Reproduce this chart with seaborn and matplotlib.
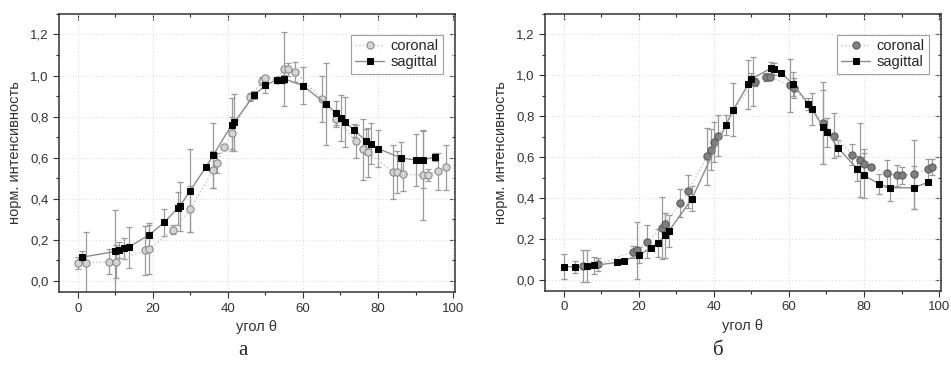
import numpy as np
import pandas as pd
import matplotlib
matplotlib.use("Agg")
import matplotlib.pyplot as plt
import seaborn as sns
from matplotlib.ticker import MultipleLocator, FuncFormatter, NullFormatter

# panel а
a_cor_x = [0, 2.2, 8.4, 10.2, 17.9, 19, 25.5, 30, 36.1, 37.1, 39, 41, 46, 49, 50, 53, 54.9, 56, 58,
           65, 68.8, 74.2, 76, 77.3, 84, 85, 86.7, 92, 93.2, 96.1, 98.2]
a_cor_y = [0.086, 0.086, 0.094, 0.094, 0.148, 0.154, 0.25, 0.35, 0.54, 0.574, 0.65, 0.72, 0.896, 0.972,
           0.99, 0.98, 1.034, 1.03, 1.018, 0.886, 0.79, 0.68, 0.64, 0.626, 0.53, 0.53, 0.52, 0.514,
           0.517, 0.533, 0.553]
a_cor_e = [0.03, 0.15, 0.06, 0.08, 0.12, 0.12, 0.02, 0.11, 0.09, 0.05, 0.0, 0.08, 0.02, 0.02, 0.01, 0.0,
           0.18, 0.03, 0.05, 0.11, 0.04, 0.08, 0.15, 0.12, 0.13, 0.1, 0.08, 0.22, 0.03, 0.09, 0.11]

a_sag_x = [1.1, 10, 11.1, 12.3, 13.6, 19, 23.1, 26.6, 27.2, 30, 34.1, 36.1, 41, 41.7, 47, 50, 53.1,
           54.1, 55, 60, 66.1, 68.7, 70.1, 71.2, 73.7, 76.9, 78.1, 80, 86.2, 90, 92.1, 95.1]
a_sag_y = [0.115, 0.143, 0.151, 0.158, 0.164, 0.224, 0.285, 0.354, 0.363, 0.44, 0.553, 0.611, 0.76,
           0.772, 0.904, 0.953, 0.98, 0.98, 0.984, 0.951, 0.862, 0.818, 0.793, 0.774, 0.733, 0.68,
           0.668, 0.644, 0.598, 0.589, 0.59, 0.603]
a_sag_e = [0.03, 0.2, 0.04, 0.05, 0.1, 0.06, 0.065, 0.08, 0.12, 0.2, 0.0, 0.16, 0.13, 0.14, 0.02, 0.04,
           0.0, 0.0, 0.02, 0.09, 0.2, 0.06, 0.11, 0.12, 0.03, 0.06, 0.1, 0.09, 0.08, 0.125, 0.14, 0.02]

# panel б
b_cor_x = [5.1, 9.2, 18.4, 19.4, 22.2, 26.1, 27, 31.1, 33.2, 38.2, 39.2, 40.1, 41.2, 50.5, 51, 54, 55,
           60.2, 61.3, 69.2, 72, 76.9, 79, 80, 82, 86.1, 88.9, 90.2, 93.2, 97.1, 98]
b_cor_y = [0.067, 0.075, 0.137, 0.145, 0.186, 0.254, 0.275, 0.376, 0.433, 0.604, 0.637, 0.674, 0.705,
           0.971, 0.966, 0.992, 0.992, 0.951, 0.938, 0.767, 0.705, 0.612, 0.585, 0.568, 0.55, 0.52,
           0.51, 0.51, 0.516, 0.54, 0.55]
b_cor_e = [0.08, 0.03, 0.03, 0.14, 0.08, 0.15, 0.05, 0.07, 0.08, 0.14, 0.1, 0.1, 0.1, 0.12, 0.02, 0.02,
           0.01, 0.13, 0.05, 0.2, 0.11, 0.05, 0.18, 0.07, 0.0, 0.065, 0.05, 0.04, 0.17, 0.05, 0.04]

b_sag_x = [0, 3, 6.1, 8.2, 14.1, 16.1, 20, 23.2, 25.1, 27.1, 28, 34.2, 43.2, 45.2, 49.2, 50, 55.2, 56.1,
           58, 61.1, 65.2, 66.2, 69.1, 70.2, 73.1, 78.1, 80, 84, 87, 93.2, 97.1]
b_sag_y = [0.064, 0.064, 0.067, 0.07, 0.085, 0.094, 0.12, 0.156, 0.18, 0.217, 0.238, 0.397, 0.756,
           0.832, 0.957, 0.982, 1.034, 1.031, 1.011, 0.957, 0.86, 0.835, 0.746, 0.721, 0.645, 0.544,
           0.511, 0.469, 0.45, 0.45, 0.477]
b_sag_e = [0.06, 0.03, 0.08, 0.04, 0.0, 0.0, 0.04, 0.0, 0.07, 0.11, 0.08, 0.06, 0.05, 0.13, 0.12, 0.03,
           0.03, 0.03, 0.0, 0.06, 0.03, 0.08, 0.18, 0.07, 0.04, 0.06, 0.11, 0.05, 0.065, 0.105, 0.0]

panel_labels = ["а", "б"]
cor_face = ["#d4d4d4", "#808080"]
cor_edge = ["#8a8a8a", "#5a5a5a"]

sns.set_style("white")
plt.rcParams['font.family'] = ['Liberation Sans', 'DejaVu Sans']

fig = plt.figure(figsize=(9.51, 3.67), dpi=100)
ax1 = fig.add_axes([0.062, 0.204, 0.416, 0.758])
ax2 = fig.add_axes([0.573, 0.207, 0.416, 0.755])

panels = [
    (ax1, a_cor_x, a_cor_y, a_cor_e, a_sag_x, a_sag_y, a_sag_e),
    (ax2, b_cor_x, b_cor_y, b_cor_e, b_sag_x, b_sag_y, b_sag_e),
]

comma = FuncFormatter(lambda v, p: ("%.1f" % v).replace(".", ","))

for i, (ax, cx, cy, ce, sx, sy, se) in enumerate(panels):
    ax.grid(True, which="major", color="#dcdcdc", linestyle=(0, (1, 2)), linewidth=0.8)
    ax.set_axisbelow(True)
    ax.errorbar(cx, cy, yerr=ce, fmt="none", ecolor="#9a9a9a", elinewidth=0.9, capsize=2, capthick=0.9, zorder=2)
    ax.errorbar(sx, sy, yerr=se, fmt="none", ecolor="#9a9a9a", elinewidth=0.9, capsize=2, capthick=0.9, zorder=2)
    cor = pd.DataFrame({"x": cx, "y": cy})
    sag = pd.DataFrame({"x": sx, "y": sy})
    sns.lineplot(data=cor, x="x", y="y", ax=ax, estimator=None, sort=False, color="#c4c4c4",
                 linestyle=":", linewidth=1.0, marker="o", markersize=5.2, markerfacecolor=cor_face[i],
                 markeredgecolor=cor_edge[i], markeredgewidth=0.8, label="coronal", zorder=3)
    sns.lineplot(data=sag, x="x", y="y", ax=ax, estimator=None, sort=False, color="#8c8c8c",
                 linestyle="-", linewidth=1.0, marker="s", markersize=4.6, markerfacecolor="black",
                 markeredgecolor="black", label="sagittal", zorder=4)
    ax.set_xlim(-5, 100.4)
    ax.set_ylim(-0.055, 1.3)
    ax.xaxis.set_major_locator(MultipleLocator(20))
    ax.xaxis.set_minor_locator(MultipleLocator(10))
    ax.yaxis.set_major_locator(MultipleLocator(0.2))
    ax.yaxis.set_minor_locator(MultipleLocator(0.1))
    ax.yaxis.set_major_formatter(comma)
    ax.tick_params(axis="both", which="major", direction="out", length=4, width=0.8, labelsize=9.5,
                   colors="#333333", bottom=True, left=True)
    ax.tick_params(axis="both", which="minor", direction="out", length=2, width=0.8, bottom=True, left=True)
    # mirrored ticks on top and right, pointing inward
    topx = ax.secondary_xaxis("top")
    rgty = ax.secondary_yaxis("right")
    for sec, loc_major, loc_minor in [(topx.xaxis, 20, 10), (rgty.yaxis, 0.2, 0.1)]:
        sec.set_major_locator(MultipleLocator(loc_major))
        sec.set_minor_locator(MultipleLocator(loc_minor))
        sec.set_major_formatter(NullFormatter())
    topx.tick_params(which="major", direction="in", length=4, width=0.8, colors="#333333")
    topx.tick_params(which="minor", direction="in", length=2, width=0.8, colors="#333333")
    rgty.tick_params(which="major", direction="in", length=4, width=0.8, colors="#333333")
    rgty.tick_params(which="minor", direction="in", length=2, width=0.8, colors="#333333")
    for sec in (topx, rgty):
        for sp in sec.spines.values():
            sp.set_visible(False)
    for sp in ax.spines.values():
        sp.set_color("#333333")
        sp.set_linewidth(1.1)
    ax.set_xlabel("угол θ", fontsize=10.5, color="#333333", labelpad=4)
    ax.set_ylabel("норм. интенсивность", fontsize=10.5, color="#333333", labelpad=6)
    leg = ax.legend(loc="upper right", bbox_to_anchor=(0.97, 0.925), fontsize=10.5, frameon=True,
                    fancybox=False, edgecolor="#888888", handlelength=2.0, handletextpad=0.4,
                    borderpad=0.3, labelspacing=0.15, borderaxespad=0.0)
    leg.get_frame().set_linewidth(0.8)

fig.text(0.255, 0.046, panel_labels[0], ha="center", va="center", fontsize=15, family="Liberation Serif")
fig.text(0.755, 0.046, panel_labels[1], ha="center", va="center", fontsize=15, family="Liberation Serif")

fig.savefig("out.png", dpi=100)
